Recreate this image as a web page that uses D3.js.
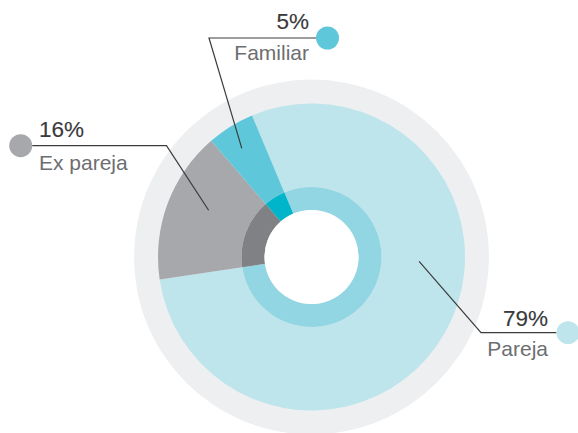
<!DOCTYPE html>
<html>
<head>
<meta charset="utf-8">
<script src="https://cdn.jsdelivr.net/npm/d3@7"></script>
<style>
  html, body { margin: 0; padding: 0; background: #ffffff; }
  svg { display: block; }
</style>
</head>
<body>
<svg id="chart" width="578" height="433"></svg>
<script>
// ---- data ----
const categories = ["Pareja", "Ex pareja", "Familiar"];
const values = [79, 16, 5];
const valueLabels = ["79%", "16%", "5%"];

// ---- styles ----
const outerColors = ["#bee4ec", "#a7a8ab", "#5ec8da"];
const innerColors = ["#93d6e3", "#808184", "#00b4ca"];
const dotColors = ["#bee4ec", "#a7a8ab", "#5ec8da"];

const svg = d3.select("#chart");
const cx = 311.5, cy = 257;
const rBg = 177.5, rOuter = 153.5, rMid = 70, rHole = 47;
const startDeg = -22.8;
const toRad = d => d * Math.PI / 180;

const g = svg.append("g").attr("transform", `translate(${cx},${cy})`);

// background ring
g.append("circle").attr("r", rBg).attr("fill", "#eeeff1");

const pie = d3.pie().sort(null)
  .startAngle(toRad(startDeg))
  .endAngle(toRad(startDeg) + 2 * Math.PI);
const arcsData = pie(values);

const outerArc = d3.arc().innerRadius(rMid).outerRadius(rOuter);
const innerArc = d3.arc().innerRadius(rHole).outerRadius(rMid);

g.selectAll("path.outer").data(arcsData).enter().append("path")
  .attr("class", "outer")
  .attr("d", outerArc)
  .attr("fill", (d, i) => outerColors[i]);

g.selectAll("path.inner").data(arcsData).enter().append("path")
  .attr("class", "inner")
  .attr("d", innerArc)
  .attr("fill", (d, i) => innerColors[i]);

g.append("circle").attr("r", rHole).attr("fill", "#ffffff");

// ---- annotations (layout) ----
const anchors = [
  { t: 0.405, r: 107.7 },  // Pareja
  { t: 0.57, r: 113 },     // Ex pareja
  { t: 0.45, r: 129 }      // Familiar
];
const layout = [
  { elbow: [481, 332.7], dot: [568, 332.7], anchor: "end", tx: 548, numY: 326, labY: 356 },
  { elbow: [166.5, 145.7], dot: [20.7, 145.7], anchor: "start", tx: 39, numY: 137, labY: 170 },
  { elbow: [209, 38], dot: [327.5, 38], anchor: "end", tx: 309, numY: 29, labY: 60 }
];

arcsData.forEach((d, i) => {
  const a = d.startAngle + (d.endAngle - d.startAngle) * anchors[i].t;
  const p = d3.pointRadial(a, anchors[i].r);
  const start = [cx + p[0], cy + p[1]];
  const L = layout[i];
  const dotR = 11.5;
  const dir = L.dot[0] > L.elbow[0] ? 1 : -1;
  const lineEnd = [L.dot[0] - dir * dotR, L.dot[1]];
  svg.append("path")
    .attr("d", d3.line()([start, L.elbow, lineEnd]))
    .attr("fill", "none")
    .attr("stroke", "#3c3c3e")
    .attr("stroke-width", 1.2);
  svg.append("circle")
    .attr("cx", L.dot[0]).attr("cy", L.dot[1]).attr("r", dotR)
    .attr("fill", dotColors[i]);
  svg.append("text")
    .attr("x", L.tx).attr("y", L.numY)
    .attr("text-anchor", L.anchor)
    .attr("font-family", "Liberation Sans, Arial, sans-serif")
    .attr("font-size", 22.5)
    .attr("fill", "#3a3a3c")
    .attr("stroke", "#3a3a3c")
    .attr("stroke-width", 0.15)
    .text(valueLabels[i]);
  svg.append("text")
    .attr("x", L.tx).attr("y", L.labY)
    .attr("text-anchor", L.anchor)
    .attr("font-family", "Liberation Sans, Arial, sans-serif")
    .attr("font-size", 21)
    .attr("fill", "#6d6e70")
    .text(categories[i]);
});
</script>
</body>
</html>
